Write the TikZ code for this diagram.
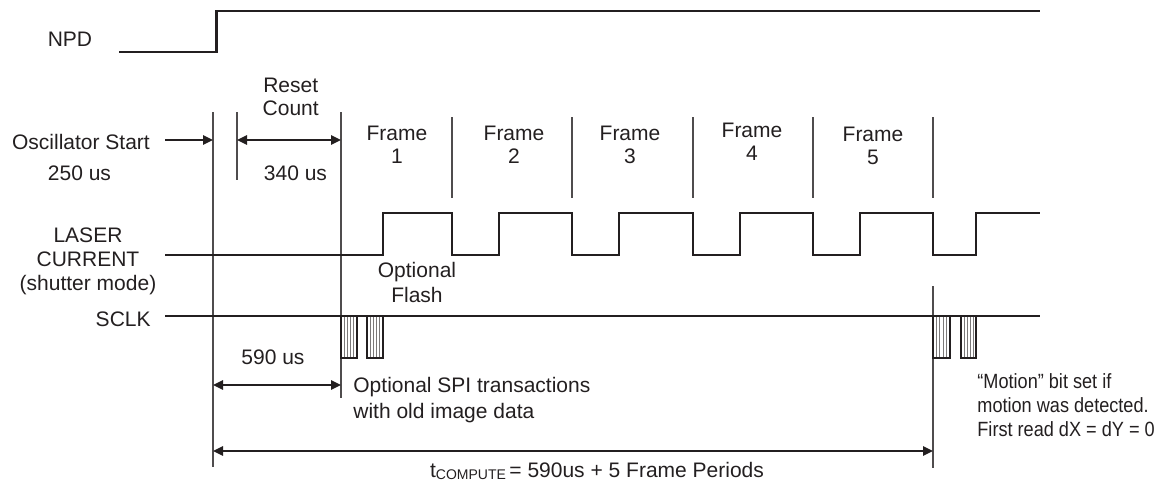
\documentclass[tikz,border=0pt]{standalone}
\usepackage{fontspec}
\setmainfont{Liberation Sans}
\newfontfamily\narrowsans[FakeStretch=0.88]{Liberation Sans}
\usetikzlibrary{arrows.meta}
\definecolor{ink}{HTML}{231F20}
\begin{document}
\begin{tikzpicture}[x=0.5pt,y=-0.5pt,
  wave/.style={line width=1.1pt,draw=ink,line join=miter},
  guide/.style={line width=0.6pt,draw=ink!80},
  oneway/.style={line width=1pt,draw=ink,-{Triangle[length=5pt,width=4.6pt]}},
  twoway/.style={line width=1pt,draw=ink,{Triangle[length=5pt,width=4.6pt]}-{Triangle[length=5pt,width=4.6pt]}},
  lbl/.style={font=\fontsize{10.5}{12}\selectfont,text=ink,inner sep=0pt,align=center,anchor=base},
  spibox/.style={line width=0.8pt,draw=ink},
  hatch/.style={line width=0.35pt,draw=ink!60},
]
\useasboundingbox (0,0) rectangle (1156,483);

% ---------- guide lines ----------
\coordinate (g1t) at (213,112);  \coordinate (g1b) at (213,467);
\coordinate (g2t) at (237,112);  \coordinate (g2b) at (237,180);
\coordinate (g3t) at (341,112);  \coordinate (g3b) at (341,398);
\draw[guide] (g1t) -- (g1b);
\draw[guide] (g2t) -- (g2b);
\draw[guide] (g3t) -- (g3b);
\foreach \x [count=\i] in {452,572,693,813,933}{
  \coordinate (f\i t) at (\x,117);
  \coordinate (f\i b) at (\x,198);
  \draw[guide] (f\i t) -- (f\i b);
}
\coordinate (g4t) at (933,286); \coordinate (g4b) at (933,468);
\draw[guide] (g4t) -- (g4b);

% ---------- waveforms ----------
\draw[wave] (119,51.7) -- (216.5,51.7) -- (216.5,11) -- (1040,11);
\draw[wave] (165,255) -- (383,255) -- (383,213) -- (452,213) -- (452,255)
  -- (499,255) -- (499,213) -- (572,213) -- (572,255)
  -- (619,255) -- (619,213) -- (693,213) -- (693,255)
  -- (740,255) -- (740,213) -- (813,213) -- (813,255)
  -- (860,255) -- (860,213) -- (933,213) -- (933,255)
  -- (976,255) -- (976,213) -- (1040,213);
\draw[wave] (165,316) -- (1040,316);

% ---------- SPI bursts ----------
\foreach \x/\w in {341/16,367/16,933/17,961/15}{
  \foreach \k in {1,...,4}{
    \draw[hatch] (\x+\k*\w/5,316) -- (\x+\k*\w/5,358);
  }
  \draw[spibox] (\x,316) rectangle (\x+\w,358);
}

% ---------- dimension arrows ----------
\coordinate (oscA) at (165,140); \coordinate (oscB) at (213,140);
\coordinate (rcA) at (237,140);  \coordinate (rcB) at (341,140);
\coordinate (dA) at (213,385);   \coordinate (dB) at (341,385);
\coordinate (tA) at (213,451);   \coordinate (tB) at (933,451);
\draw[oneway] (oscA) -- (oscB);
\draw[twoway] (rcA) -- (rcB);
\draw[twoway] (dA) -- (dB);
\draw[twoway] (tA) -- (tB);

% ---------- labels (multi-line nodes: base = last line) ----------
\node[lbl] (npd) at (70,46) {NPD};
\node[lbl] (osc) at (81,149) {Oscillator Start};
\node[lbl] (t250) at (79.5,180) {250 us};
\node[lbl,font=\fontsize{10.5}{11.5}\selectfont] (reset) at (290.7,115) {Reset\\Count};
\node[lbl] (t340) at (295.5,180) {340 us};
\node[lbl,font=\fontsize{10.5}{11.5}\selectfont] (fr1) at (397,163) {Frame\\1};
\node[lbl,font=\fontsize{10.5}{11.5}\selectfont] (fr2) at (514,163) {Frame\\2};
\node[lbl,font=\fontsize{10.5}{11.5}\selectfont] (fr3) at (630,163) {Frame\\3};
\node[lbl,font=\fontsize{10.5}{11.5}\selectfont] (fr4) at (752,160) {Frame\\4};
\node[lbl,font=\fontsize{10.5}{11.5}\selectfont] (fr5) at (873,164) {Frame\\5};
\node[lbl] (laser) at (88,290) {LASER\\CURRENT\\(shutter mode)};
\node[lbl,anchor=base east] (sclk) at (151,326) {SCLK};
\node[lbl,font=\fontsize{10.5}{12.5}\selectfont] (flash) at (417,302) {Optional\\Flash};
\node[lbl] (t590) at (273,364) {590 us};
\node[lbl,align=left,anchor=base west,font=\fontsize{10.5}{13}\selectfont] (spitxt) at (353,418) {Optional SPI transactions\\with old image data};
\node[lbl,align=left,anchor=base west,font=\narrowsans\fontsize{10.3}{12}\selectfont] (motion) at (977,436) {“Motion” bit set if\\motion was detected.\\First read dX = dY = 0};
\node[lbl] (tcomp) at (597,477) {t\raisebox{-1pt}{\fontsize{7}{8}\selectfont COMPUTE}\,= 590us + 5 Frame Periods};
\end{tikzpicture}
\end{document}
